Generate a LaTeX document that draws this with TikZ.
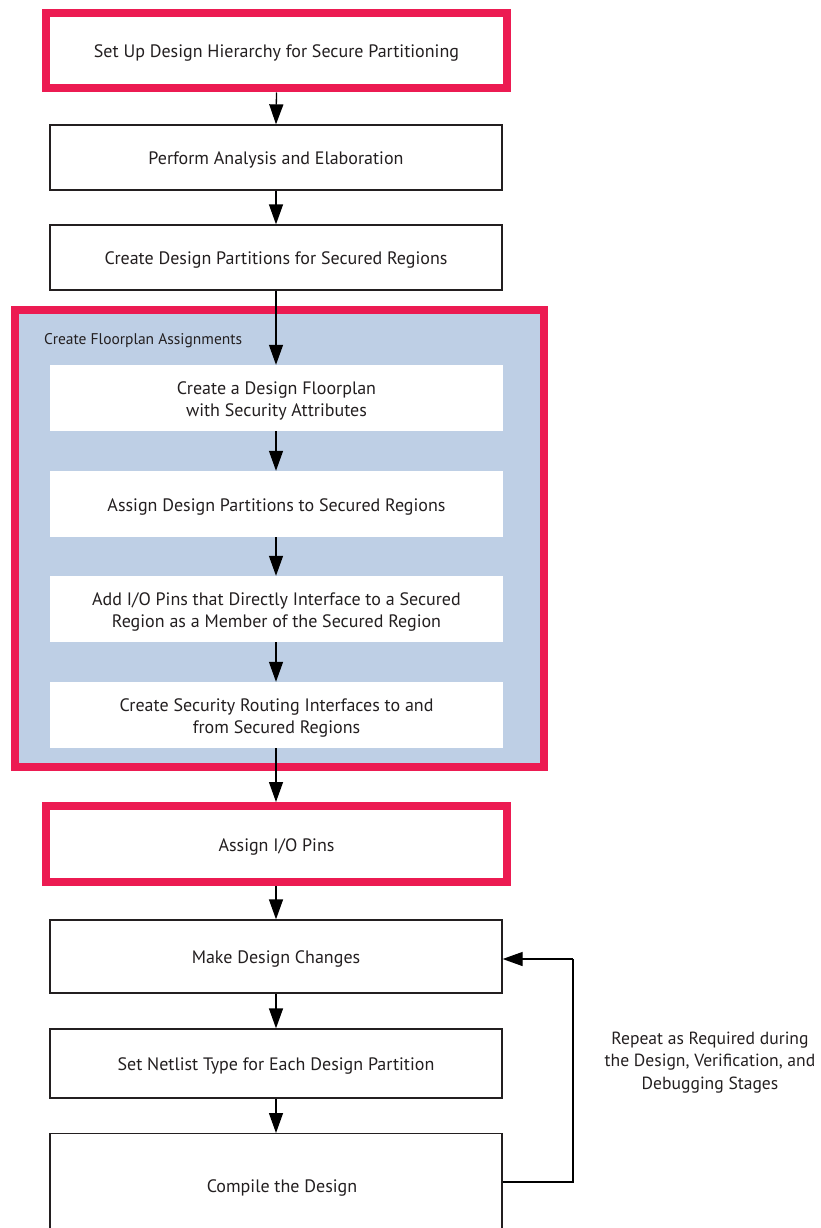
\documentclass[tikz,border=0pt]{standalone}
\usepackage{fontspec}
\setmainfont{PT Sans}
\usetikzlibrary{arrows.meta}
\definecolor{secred}{RGB}{236,27,82}
\definecolor{grpblue}{RGB}{190,207,229}
\definecolor{boxline}{RGB}{35,31,32}
\tikzset{
  every node/.style={inner sep=0pt, text=boxline},
  mainfont/.style={font=\fontsize{18}{22}\selectfont},
  txt/.style={mainfont, align=center, yshift=-2.5pt},
  stepbox/.style={draw=boxline, line width=1.3pt, fill=white, minimum width=452pt},
  redbox/.style={draw=secred, line width=8pt, fill=white, minimum width=461pt},
  innerbox/.style={fill=white, minimum width=453pt, minimum height=66pt},
  flow/.style={draw=black, line width=1.3pt, -{Triangle[length=20pt,width=14pt]}},
}
\begin{document}
\begin{tikzpicture}[x=1pt,y=-1pt]
\useasboundingbox (0,0) rectangle (820,1228);
\clip (0,0) rectangle (820,1228);
% top
\node[redbox, minimum height=75.5pt] (setup) at (276.5,50.75) {};
\node[txt] (setupt) at (setup.center) {Set Up Design Hierarchy for Secure Partitioning};
\node[stepbox, minimum height=65pt] (perform) at (276,157.5) {};
\node[txt] (performt) at (perform.center) {Perform Analysis and Elaboration};
\node[stepbox, minimum height=65pt] (parts) at (276,257.5) {};
\node[txt] (partst) at (parts.center) {Create Design Partitions for Secured Regions};
% group
\node[draw=secred, line width=8pt, fill=grpblue, minimum width=529pt, minimum height=457pt] (grp) at (279.5,538.5) {};
\node[anchor=west, font=\fontsize{15.5}{18}\selectfont] (grptitle) at (44,340.5) {Create Floorplan Assignments};
\node[innerbox] (fp) at (276.5,398) {};
\node[txt] (fpt) at (fp.center) {Create a Design Floorplan\\with Security Attributes};
\node[innerbox] (assign) at (276.5,504) {};
\node[txt] (assignt) at (assign.center) {Assign Design Partitions to Secured Regions};
\node[innerbox] (iomember) at (276.5,609) {};
\node[txt] (iomembert) at (iomember.center) {Add I/O Pins that Directly Interface to a Secured\\Region as a Member of the Secured Region};
\node[innerbox] (routing) at (276.5,715) {};
\node[txt] (routingt) at (routing.center) {Create Security Routing Interfaces to and\\from Secured Regions};
% bottom
\node[redbox, minimum height=76pt] (iopins) at (276.5,844) {};
\node[txt] (iopinst) at (iopins.center) {Assign I/O Pins};
\node[stepbox, minimum height=73pt] (changes) at (276,956.5) {};
\node[txt] (changest) at (changes.center) {Make Design Changes};
\node[stepbox, minimum height=69pt] (netlist) at (276,1063.5) {};
\node[txt] (netlistt) at (netlist.center) {Set Netlist Type for Each Design Partition};
\node[stepbox, minimum height=130pt, anchor=north] (compile) at (276,1133) {};
\node[txt] (compilet) at (282,1185) {Compile the Design};
\node[align=center, font=\fontsize{17.6}{22.5}\selectfont, yshift=-2.5pt] (repeat) at (710,1060) {Repeat as Required during\\the Design, Verification, and\\Debugging Stages};
% arrows
\draw[flow] (setup.south) -- (perform.north);
\draw[flow] (perform.south) -- (parts.north);
\draw[flow] (parts.south) -- (fp.north -| parts.south);
\draw[flow] (fp.south -| parts.south) -- (assign.north -| parts.south);
\draw[flow] (assign.south -| parts.south) -- (iomember.north -| parts.south);
\draw[flow] (iomember.south -| parts.south) -- (routing.north -| parts.south);
\draw[flow] (routing.south -| parts.south) -- (iopins.north -| parts.south);
\draw[flow] (iopins.south -| parts.south) -- (changes.north -| parts.south);
\draw[flow] (changes.south -| parts.south) -- (netlist.north -| parts.south);
\draw[flow] (netlist.south -| parts.south) -- (compile.north -| parts.south);
\coordinate (fbA) at (573,1182);
\coordinate (fbB) at (573,959);
\draw[draw=black, line width=1.3pt] (compile.east |- fbA) -- (fbA) -- (fbB);
\draw[flow] (fbB) -- (changes.east |- fbB);
\end{tikzpicture}
\end{document}
